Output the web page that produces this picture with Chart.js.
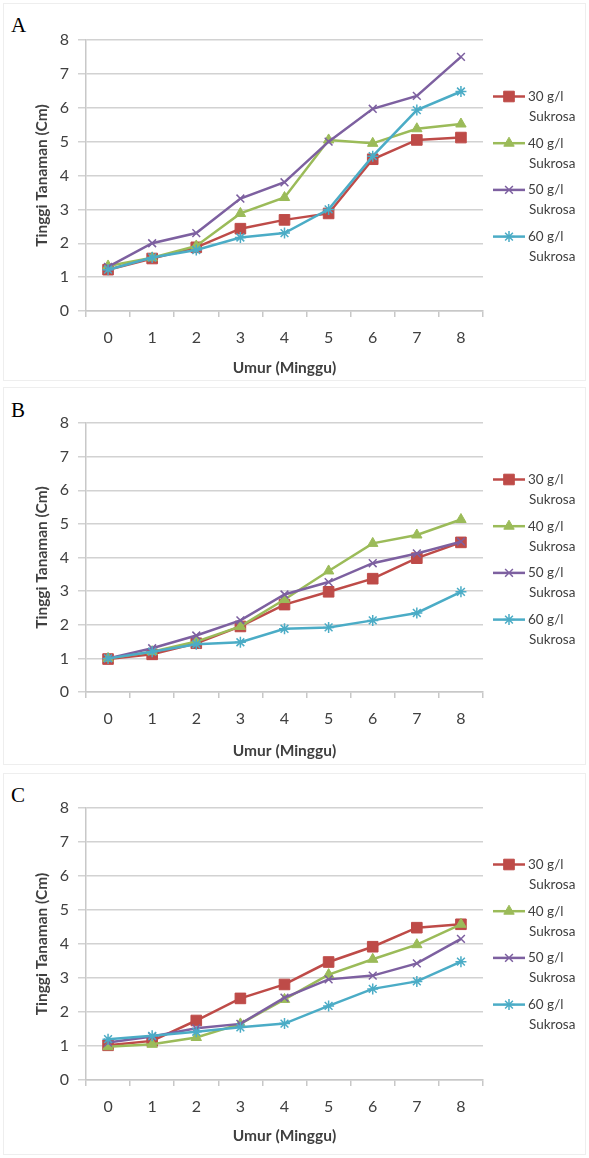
<!DOCTYPE html>
<html><head><meta charset="utf-8">
<script src="https://cdn.jsdelivr.net/npm/chart.js@4.4.1/dist/chart.umd.min.js"></script>
<style>
body{margin:0;background:#fff;width:589px;height:1158px;position:relative;overflow:hidden;}
.frame{position:absolute;left:3px;width:583px;border:1px solid #eeeeee;box-sizing:border-box;}
.lbl{position:absolute;font-family:"Liberation Serif","Times New Roman",serif;font-size:21px;color:#000;line-height:1;}
canvas{position:absolute;left:0;}
</style></head><body>
<div class="frame" style="top:3px;height:378px"></div>
<div class="frame" style="top:387px;height:378px"></div>
<div class="frame" style="top:773px;height:382px"></div>
<div class="lbl" style="left:11px;top:15px">A</div>
<div class="lbl" style="left:11px;top:400px">B</div>
<div class="lbl" style="left:11px;top:785px">C</div>
<canvas id="cA" width="589" height="385" style="top:0px"></canvas>
<canvas id="cB" width="589" height="385" style="top:383px"></canvas>
<canvas id="cC" width="589" height="385" style="top:768px"></canvas>
<script>
const categories = ['0','1','2','3','4','5','6','7','8'];
const seriesNames = ['30 g/l','40 g/l','50 g/l','60 g/l'];
const seriesSuffix = 'Sukrosa';
const yTicks = [0,1,2,3,4,5,6,7,8];
const xTitle = 'Umur (Minggu)';
const yTitle = 'Tinggi Tanaman (Cm)';

const panelA_30 = [1.22, 1.55, 1.88, 2.43, 2.69, 2.88, 4.48, 5.05, 5.12];
const panelA_40 = [1.33, 1.57, 1.92, 2.88, 3.35, 5.05, 4.95, 5.38, 5.52];
const panelA_50 = [1.30, 2.00, 2.30, 3.32, 3.80, 5.00, 5.97, 6.35, 7.50];
const panelA_60 = [1.22, 1.58, 1.80, 2.17, 2.30, 3.00, 4.57, 5.93, 6.48];

const panelB_30 = [0.98, 1.12, 1.45, 1.95, 2.60, 2.98, 3.37, 3.98, 4.45];
const panelB_40 = [1.00, 1.20, 1.50, 1.95, 2.75, 3.60, 4.42, 4.67, 5.13];
const panelB_50 = [1.00, 1.30, 1.68, 2.13, 2.90, 3.27, 3.83, 4.12, 4.47];
const panelB_60 = [1.00, 1.20, 1.42, 1.48, 1.88, 1.92, 2.13, 2.35, 2.98];

const panelC_30 = [1.02, 1.15, 1.75, 2.40, 2.81, 3.47, 3.92, 4.48, 4.58];
const panelC_40 = [0.98, 1.05, 1.25, 1.65, 2.37, 3.10, 3.55, 3.98, 4.58];
const panelC_50 = [1.10, 1.28, 1.52, 1.65, 2.42, 2.96, 3.07, 3.43, 4.15];
const panelC_60 = [1.20, 1.30, 1.42, 1.55, 1.66, 2.18, 2.68, 2.90, 3.48];

const colors = ['#BE4B48', '#9BBB59', '#7D60A0', '#4BACC6'];
const styles = [
  {pointStyle:'rect', radius:7.5, bw:1},
  {pointStyle:'triangle', radius:6, bw:1},
  {pointStyle:'crossRot', radius:5.5, bw:1.5},
  {pointStyle:'star', radius:5.5, bw:1.5}
];
const FONT = 'Lato, "Open Sans", sans-serif';

function drawMarker(ctx, st, color, x, y) {
  ctx.save();
  ctx.fillStyle = color; ctx.strokeStyle = color; ctx.lineWidth = st.bw;
  if (Chart.helpers && Chart.helpers.drawPoint) {
    Chart.helpers.drawPoint(ctx, {pointStyle: st.pointStyle, rotation: 0, radius: st.radius, borderWidth: st.bw}, x, y);
  }
  ctx.restore();
}

const legendPlugin = {
  id: 'sideLegend',
  afterDraw(chart) {
    const ctx = chart.ctx;
    chart.data.datasets.forEach((ds, i) => {
      const y = 96.5 + i * 46.7;
      ctx.save();
      ctx.strokeStyle = ds.borderColor; ctx.lineWidth = 2.5;
      ctx.beginPath(); ctx.moveTo(493, y); ctx.lineTo(525, y); ctx.stroke();
      ctx.restore();
      drawMarker(ctx, styles[i], ds.borderColor, 509, y);
      ctx.save();
      ctx.fillStyle = '#404040';
      ctx.font = '13.5px ' + FONT;
      ctx.textBaseline = 'middle'; ctx.textAlign = 'left';
      ctx.fillText(seriesNames[i], 528, y);
      ctx.fillText(seriesSuffix, 529, y + 20);
      ctx.restore();
    });
  }
};

function makeChart(id, seriesData, plotH) {
  const H = 385, top = 40;
  const xAxisH = H - top - plotH;
  return new Chart(document.getElementById(id), {
    type: 'line',
    data: {
      labels: categories,
      datasets: seriesData.map((d, i) => ({
        label: seriesNames[i] + ' ' + seriesSuffix,
        data: d,
        borderColor: colors[i],
        backgroundColor: colors[i],
        pointBackgroundColor: colors[i],
        pointBorderColor: colors[i],
        pointStyle: styles[i].pointStyle,
        pointRadius: styles[i].radius,
        pointHoverRadius: styles[i].radius,
        pointBorderWidth: styles[i].bw,
        borderWidth: 2.5,
        tension: 0,
        fill: false,
        order: 4 - i
      }))
    },
    options: {
      responsive: false,
      animation: false,
      devicePixelRatio: 1,
      events: [],
      layout: { padding: { left: 30, top: top, right: 106, bottom: 0 } },
      plugins: { legend: { display: false }, tooltip: { enabled: false }, title: { display: false } },
      scales: {
        x: {
          type: 'category',
          offset: true,
          grid: { display: true, drawOnChartArea: false, drawTicks: true, tickLength: 6, color: '#c8c8c8', lineWidth: 1.5, offset: true },
          border: { display: true, color: '#c8c8c8', width: 1.5 },
          ticks: { color: '#404040', font: { family: FONT, size: 16 }, padding: 11, maxRotation: 0 },
          title: { display: true, text: xTitle, color: '#404040', font: { family: FONT, size: 15.5, weight: 'bold' }, padding: { top: 4, bottom: 8 } },
          afterFit(s) { s.height = xAxisH; }
        },
        y: {
          min: 0, max: 8,
          afterBuildTicks(s) { s.ticks = yTicks.map(v => ({ value: v })); },
          grid: { color: '#d2d2d2', lineWidth: 1.5, tickLength: 8, drawTicks: true },
          border: { display: true, color: '#c8c8c8', width: 1.5 },
          ticks: { color: '#404040', font: { family: FONT, size: 16 }, padding: 9 },
          title: { display: true, text: yTitle, color: '#404040', font: { family: FONT, size: 15.5, weight: 'bold' }, padding: { top: 3, bottom: 3 } },
          afterFit(s) { s.width = 56; }
        }
      }
    },
    plugins: [legendPlugin]
  });
}

makeChart('cA', [panelA_30, panelA_40, panelA_50, panelA_60], 271);
makeChart('cB', [panelB_30, panelB_40, panelB_50, panelB_60], 269);
makeChart('cC', [panelC_30, panelC_40, panelC_50, panelC_60], 272);
</script>
</body></html>
